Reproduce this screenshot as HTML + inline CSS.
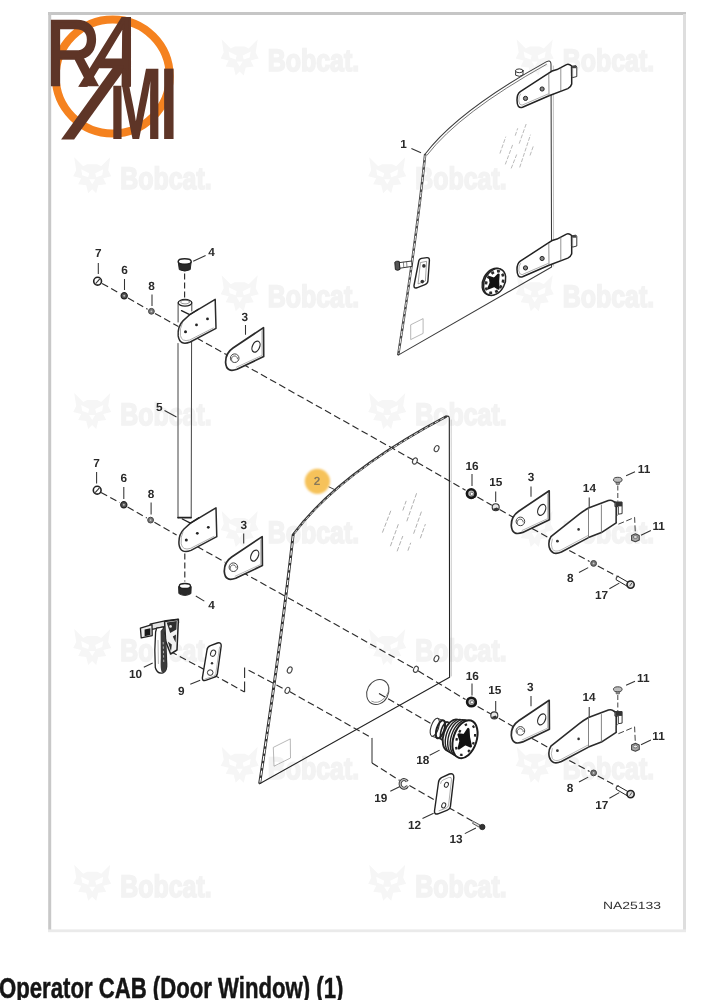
<!DOCTYPE html>
<html lang="en">
<head>
<meta charset="utf-8">
<title>Operator CAB (Door Window) (1)</title>
<style>
html,body{margin:0;padding:0;background:#fff;}
body{width:707px;height:1000px;overflow:hidden;position:relative;font-family:"Liberation Sans",sans-serif;}
svg{position:absolute;left:0;top:0;display:block;will-change:transform;}
svg text{font-family:"Liberation Sans",sans-serif;text-rendering:geometricPrecision;}
.lb{font-weight:bold;font-size:11.8px;fill:#2a2a2a;text-anchor:middle;}
.wm text{font-weight:bold;font-size:29px;fill:#f3f3f3;stroke:#f3f3f3;stroke-width:1.6px;}
.wm path{fill:#f6f6f6;}
.k{fill:none;stroke:#222;stroke-width:1;stroke-linecap:round;stroke-linejoin:round;}
.kf{fill:#fff;stroke:#222;stroke-width:1;stroke-linecap:round;stroke-linejoin:round;}
.t{fill:none;stroke:#444;stroke-width:0.7;stroke-linecap:round;stroke-linejoin:round;}
.d{fill:none;stroke:#2c2c2c;stroke-width:1.15;stroke-dasharray:7 3.5;}
.ld{fill:none;stroke:#333;stroke-width:1.05;}
h1{position:absolute;left:-1px;top:972.8px;margin:0;font-size:29.5px;line-height:30px;font-weight:bold;color:#151515;white-space:nowrap;transform-origin:0 0;transform:scaleX(0.751);letter-spacing:0;-webkit-text-stroke:0.5px #151515;}
</style>
</head>
<body>
<svg width="707" height="1000" viewBox="0 0 707 1000">
<!-- 10_frame.svg -->
<rect x="48" y="12" width="638" height="3" fill="#c6c6c6"/>
<rect x="48.2" y="12" width="3" height="920" fill="#c8c8c8"/>
<rect x="683" y="14" width="3" height="917" fill="#dedede"/>
<rect x="48" y="929.4" width="638" height="2.8" fill="#eaeaea"/>
<defs><g id="bc" class="wm">
<path fill-rule="evenodd" d="M1,1 L10,10 L14,8 L24,8 L28,10 L37,1 L35,14 L38,20 L30,22 L33,28 L25,29 L23,37 L19,33 L15,37 L13,29 L5,28 L8,22 L0,20 L3,14 Z M8,13 L16,17 L15,21 L9,19 Z M30,13 L22,17 L23,21 L29,19 Z M16,23 L22,23 L19,28 Z"/>
<text transform="translate(47,33) scale(0.86,1.07)">Bobcat.</text>
</g></defs>
<use href="#bc" x="220.7" y="38.4"/>
<use href="#bc" x="515.7" y="38.4"/>
<use href="#bc" x="73.2" y="156.3"/>
<use href="#bc" x="368.2" y="156.3"/>
<use href="#bc" x="220.7" y="274.2"/>
<use href="#bc" x="515.7" y="274.2"/>
<use href="#bc" x="73.2" y="392.1"/>
<use href="#bc" x="368.2" y="392.1"/>
<use href="#bc" x="220.7" y="510.0"/>
<use href="#bc" x="515.7" y="510.0"/>
<use href="#bc" x="73.2" y="627.9"/>
<use href="#bc" x="368.2" y="627.9"/>
<use href="#bc" x="220.7" y="745.8"/>
<use href="#bc" x="515.7" y="745.8"/>
<use href="#bc" x="73.2" y="863.7"/>
<use href="#bc" x="368.2" y="863.7"/>
<!-- 20_logo.svg -->
<g id="logo">
<defs><clipPath id="aclip"><rect x="40" y="0" width="140" height="86.7"/></clipPath><clipPath id="mclip"><polygon points="122.6,60 180,60 180,145 100,145 100,85.8 122.6,85.8"/></clipPath></defs>
<circle cx="112.7" cy="76.5" r="57" fill="none" stroke="#f5821f" stroke-width="8"/>
<polygon points="61.1,139.4 74.1,139.4 128.5,64 115.5,64" fill="#5e3527"/>
<g fill="#5e3527" stroke="#5e3527" stroke-linejoin="miter">
<text transform="matrix(0.818,0,0,1,45.8,85.3)" font-size="92.9" stroke-width="2.6">R</text>
<g clip-path="url(#aclip)"><text transform="matrix(0.769,0,-0.309,1,79,87.3)" font-size="99.7" stroke-width="2.6">A</text></g>
<g clip-path="url(#mclip)"><text transform="matrix(0.63,0,0,1,109.1,139.4)" font-size="102.3" font-weight="bold" stroke-width="0">M</text></g>
<text transform="matrix(0.64,0,0,1,159.7,139.4)" font-size="102.3" font-weight="bold" stroke-width="0">I</text>
</g>
</g>

<!-- 25_dashes.svg -->
<g id="dashes" class="d">
<!-- upper axis: slope .5714 from (98.4,281.4) -->
<path d="M102,283.4L120.4,293.8 M128,298L147.6,309.2 M155,313.4L178.4,326.6 M187.6,333L226.4,354.6 M242.6,364L414,460.4 M417,462.2L465.6,490.2 M477.4,497L491.8,505.2 M499.6,509.6L514.6,518 M532,528.4L549.6,538.2 M560,545.6L589.6,561.4 M597.8,566L617.6,576.6"/>
<!-- lower axis -->
<path d="M101,492.4L119.8,502.6 M127.6,507L146.8,518 M154.4,522.2L176.6,535 M188,541.4L225,562.2 M242,572L415,669 M418,670.8L465.6,699.6 M477.6,706.6L491,714 M498.8,718.2L514,727 M532,738.4L549.6,748.2 M560,755.6L589.6,771.4 M597.8,776L617.6,786.6"/>
<!-- 10 -> 9 -> glass -->
<path d="M170.5,651.5L207.4,671.2 M212.8,674.4L244.6,692"/>
<path d="M244.6,692L244.6,667.4" style="stroke-dasharray:10.5 3.6;stroke-width:1.1"/>
<path d="M248.6,670.2L286,690"/>
<!-- glass hole -> 19 -> 12 -> 13 -->
<path d="M289.5,691.6L372,738"/>
<path d="M372,738L372,763" style="stroke-dasharray:none;stroke-width:1"/>
<path d="M372,763L399.6,780.4 M409.4,785.6L434,799.6 M448.3,807.4L473,821.4"/>
<!-- knob axis -->
<path d="M379,693.4L430.5,723.4"/>
</g>

<!-- 30_window1.svg -->
<g id="window1">
<!-- glass outline -->
<path class="k" d="M425.2,154 Q458.2,110.6 546.6,61.6 Q550.8,59.6 551,64 L551.6,267 L398.2,355.1" style="stroke-width:1.05;stroke:#3a3a3a"/>
<path class="k" d="M427,155.2 Q459.6,112.8 546.4,64.4" style="stroke-width:.8;stroke:#555"/>
<path class="t" d="M553.3,66 L553.6,266" style="stroke:#999;stroke-width:.6"/>
<!-- left edge band -->
<path d="M425.2,154 Q416.4,240 398.2,355.1" fill="none" stroke="#4a4a4a" stroke-width="2.5"/>
<path d="M425.1,155.4 Q416.4,240 398.4,354" fill="none" stroke="#fff" stroke-width=".9" stroke-dasharray="5 2.4"/>
<!-- reflection marks -->
<g fill="none" stroke="#a8a8a8" stroke-width=".8" stroke-dasharray="4 1.6">
<path d="M499.9,153.5L505.8,136.7M505.3,164.4L512.7,144.6M515.2,135.7L517.7,128.3M511.2,168.4L516.7,154.5M519.2,143.6L526.6,122.8M519.7,167.4L530.5,134.7M530,155.5L533.5,145.6"/>
</g>
<!-- sticker -->
<path d="M410.7,324.8L423.1,318.6L423.1,333.4L410.7,339.6Z" fill="none" stroke="#999" stroke-width=".7"/>
<!-- small bolt on top edge -->
<path class="kf" d="M515.6,71 L515.6,75.2 Q519.3,77.6 523,75 L523,70.8 Z" style="stroke-width:.9"/>
<ellipse class="kf" cx="519.3" cy="70.8" rx="3.8" ry="1.9" style="stroke-width:.9"/>
<!-- hinge symbol -->
<defs><g id="hinge1">
<path class="kf" d="M520.3,91.7 L547.6,73.8 Q552,70.6 557,69.6 L566.5,64.6 Q569,63.6 571.7,66 L571.7,84 Q571,87 567.8,88.6 L549,95.8 L522.5,107.2 Q517,108.8 517,100 Q517,94.2 520.3,91.7 Z" style="stroke-width:1.5"/>
<path class="t" d="M548.8,74 L549,95.5 M560.8,68 L560.8,91" style="stroke:#666"/>
<path class="t" d="M520.5,94 Q518.6,96 518.8,101 Q519,105 522,105.2 L548,94" style="stroke:#777;stroke-width:.6"/>
<circle cx="525.5" cy="98.4" r="2.1" fill="#888" stroke="#222" stroke-width="1"/>
<circle cx="542.1" cy="89" r="2.1" fill="#888" stroke="#222" stroke-width="1"/>
<path class="kf" d="M571.7,66.5 L575.8,65.6 L576.8,67 L576.8,76.5 L572.6,77.6 L571.7,76.5 Z" style="stroke-width:.9"/>
<path class="t" d="M572.6,68.5 L572.6,77.4" style="stroke:#555"/>
<rect x="572" y="65.8" width="4.4" height="2.4" fill="#444"/>
</g></defs>
<use href="#hinge1"/>
<use href="#hinge1" y="169.5"/>
<!-- latch plate -->
<path class="kf" d="M418.6,262 Q418.7,259 421.5,258.4 L427,257.6 Q429.6,257.5 429.4,260.5 L427.9,281 Q427.7,283.6 425,284.6 L416.8,287.8 Q413.8,288.6 414,285.5 Z" style="stroke-width:1.4"/>
<path class="t" d="M420.8,262.5 L426.6,261.3 L425.4,281 L418.4,283.8 Z" style="stroke:#666;stroke-width:.6"/>
<circle cx="423.9" cy="265.9" r="1.8" fill="#333"/>
<circle cx="422.3" cy="281.6" r="1.8" fill="#333"/>
<!-- latch bolt left -->
<path class="kf" d="M399.5,262.6 L411.8,261 L412,266.4 L400,268.2 Z" style="stroke-width:.9"/>
<path d="M394.8,262.2 Q396.5,260.6 399.2,261.4 L400,269.4 Q397.4,271 395.4,269.6 Z" fill="#555" stroke="#222" stroke-width="1"/>
<path class="t" d="M403.4,262.2L403.8,267.6M406.6,261.8L407,267.2" style="stroke:#555"/>
<!-- knob -->
<g transform="translate(494.6,282) rotate(28) scale(.92)">
<ellipse cx="-1.2" cy=".4" rx="11.4" ry="15.6" fill="#555" stroke="#222" stroke-width="1.4"/>
<ellipse rx="11" ry="15.4" fill="#fff" stroke="#222" stroke-width="1.6"/>
<ellipse rx="8.4" ry="12.6" fill="none" stroke="#2a2a2a" stroke-width="2.8" stroke-dasharray="3.2 3.4"/>
<path d="M0,-9 L2.8,-2.6 L7,4.4 L1.6,3.8 L-2.6,9 L-3.2,2.8 L-6.8,-2 L-1.8,-3 Z" fill="#111" stroke="#111" stroke-width="2.6" stroke-linejoin="round"/>
</g>
<!-- label 1 -->
<path class="ld" d="M411.4,148.4 L421,152.8"/>
</g>

<!-- 35_window2.svg -->
<g id="window2">
<path class="k" d="M293.2,534.4 Q339.2,472.8 446,416.6 Q449.2,415 449.3,418.5 L449.6,677.2 L259.6,783.8" style="stroke-width:1.1"/>
<path class="k" d="M293.2,534.4 Q339.2,472.8 446,416.6" style="stroke-width:2.4;stroke:#3a3a3a"/>
<path d="M294.6,533.2 Q340,473.4 445.6,417" fill="none" stroke="#fff" stroke-width=".8" stroke-dasharray="4 2"/>
<path class="t" d="M451.2,420 L451.4,676" style="stroke:#aaa;stroke-width:.6"/>
<!-- left edge band -->
<path d="M293.2,534.4 Q281.4,640 259.6,783.8" fill="none" stroke="#333" stroke-width="2.9"/>
<path d="M293.1,536 Q281.4,640 259.9,782.5" fill="none" stroke="#fff" stroke-width="1.1" stroke-dasharray="5 2.4"/>
<!-- reflection marks -->
<g fill="none" stroke="#a8a8a8" stroke-width=".9" stroke-dasharray="4.5 1.8">
<path d="M382.4,532.6L390.9,510.5M390.4,546.2L398.8,523M402.8,510.5L406.2,500.9M397.1,551.3L402.8,536M406.8,521.3L416.9,492.4M407.9,550.7L410.7,542.8M413.6,533.7L422,510M420.3,538.3L425.4,524.1"/>
</g>
<!-- sticker -->
<path d="M273.3,747.4 L290.3,738.9 L290.5,758 L274,766.2 Z" fill="none" stroke="#999" stroke-width=".7"/>
<!-- holes -->
<g fill="#fff" stroke="#444" stroke-width="1.1">
<ellipse cx="436.6" cy="448.6" rx="2.2" ry="3.2" transform="rotate(25,436.6,448.6)"/>
<ellipse cx="414.9" cy="461" rx="2.2" ry="3.2" transform="rotate(25,414.9,461)"/>
<ellipse cx="436.4" cy="658.6" rx="2.2" ry="3.2" transform="rotate(25,436.4,658.6)"/>
<ellipse cx="415.9" cy="669.3" rx="2.2" ry="3.2" transform="rotate(25,415.9,669.3)"/>
<ellipse cx="289.7" cy="670" rx="2.2" ry="3.2" transform="rotate(25,289.7,670)"/>
<ellipse cx="287.4" cy="690.4" rx="2.2" ry="3.2" transform="rotate(25,287.4,690.4)"/>
</g>
<!-- knob hole -->
<ellipse cx="377.8" cy="692" rx="10.6" ry="13" transform="rotate(28,377.8,692)" fill="none" stroke="#444" stroke-width="1"/>
<path d="M370,700.5 A10.6,13 28 0 0 387,684" fill="none" stroke="#666" stroke-width=".7" transform="translate(1.4,0.6)"/>
<path class="ld" d="M328.4,486.6L334.7,489.6"/>
</g>

<!-- 40_left.svg -->
<g id="leftasm">
<defs>
<g id="plate3">
<path class="kf" d="M0,0 L0.2,29 L-26.5,41.6 Q-37,45.6 -37.9,35 Q-38.2,25.6 -30.5,20.4 Z" style="stroke-width:1.7;stroke:#2b2b2b"/>
<path class="t" d="M-1.6,3.2 L-1.5,27.8 L-27,39.6" style="stroke:#888;stroke-width:.6"/>
<ellipse cx="-7.5" cy="19" rx="3.6" ry="5.8" transform="rotate(24,-7.5,19)" fill="#fff" stroke="#2b2b2b" stroke-width="1.2"/>
<circle cx="-28.8" cy="30.6" r="4.3" fill="#fff" stroke="#444" stroke-width="1"/>
<path d="M-31.5,33 A3,3 0 1 1 -26,31.6" fill="none" stroke="#555" stroke-width=".9"/>
</g>
<g id="bracket">
<path class="kf" d="M0,0 L0.8,28.9 L-25,42.6 Q-35.5,46.6 -37,36.5 Q-37.8,27 -32,21.2 L-25.5,15.3 Z" style="stroke-width:1.5;stroke:#2b2b2b"/>
<path class="k" d="M-33.7,11.2 L-25.5,15.3 L-17,9.8" style="stroke-width:1.3"/>
<path class="t" d="M-33,24 Q-35.6,29 -34.8,36 Q-33.5,43 -25.5,40.6 L-2,28.6" style="stroke:#777;stroke-width:.6"/>
<circle cx="-7.7" cy="19.5" r="1.4" fill="#222"/>
<circle cx="-18.7" cy="25.5" r="1.4" fill="#222"/>
<circle cx="-29.7" cy="32.3" r="1.5" fill="#222"/>
</g>
<g id="nut7"><circle r="3.9" fill="#fff" stroke="#222" stroke-width="1.6"/><path d="M-2,2.4L2.2,-2.4" stroke="#333" stroke-width="1.1"/></g>
<g id="w6"><circle r="3.1" fill="#555" stroke="#222" stroke-width="1.2"/><circle r="1" fill="#bbb"/></g>
<g id="w8"><circle r="2.9" fill="#777" stroke="#444" stroke-width="1"/><circle r=".9" fill="#ccc"/></g>
</defs>
<!-- tube 5 -->
<path class="k" d="M178.1,303 L178.1,322 M191.8,303 L191.8,311" style="stroke-width:1;stroke:#444"/>
<path class="k" d="M178,343.5 L178,518 M191.6,340.8 L191.2,518" style="stroke-width:1;stroke:#444"/>
<path class="k" d="M178,517.6 L191,517.6" style="stroke-width:1.6"/>
<ellipse class="kf" cx="185" cy="302.8" rx="6.8" ry="3.3" style="stroke-width:1.3"/>
<ellipse class="t" cx="185" cy="302" rx="4.4" ry="1.9" style="stroke:#666"/>
<use href="#bracket" x="215.2" y="299.4"/>
<use href="#bracket" x="216" y="507.8"/>
<!-- plugs 4 -->
<path d="M178.2,261.6 L179.3,269.6 Q184.8,272.6 190.2,269.6 L191.2,261.6 Z" fill="#2a2a2a" stroke="#222" stroke-width="1"/>
<ellipse cx="184.7" cy="261.4" rx="6.5" ry="2.7" fill="#fff" stroke="#222" stroke-width="1.4"/>
<path d="M178.6,586.5 L178.9,593.6 Q184.8,597.2 190.9,593.6 L191.2,586.5 Z" fill="#2a2a2a" stroke="#222" stroke-width="1"/>
<ellipse cx="184.9" cy="586" rx="5.6" ry="2.5" fill="#fff" stroke="#222" stroke-width="1.3"/>
<path class="d" d="M184.6,273.5 L184.6,299" style="stroke-dasharray:6 3"/>
<path class="d" d="M184.8,553.5 L184.8,581.5" style="stroke-dasharray:6 3"/>
<!-- plates 3 -->
<use href="#plate3" x="263.5" y="327.6"/>
<use href="#plate3" x="262.2" y="536.6"/>
<!-- fasteners -->
<use href="#nut7" x="97.6" y="281.2"/><use href="#w6" x="124.2" y="295.8"/><use href="#w8" x="151.4" y="311.3"/>
<use href="#nut7" x="97.2" y="490.2"/><use href="#w6" x="123.8" y="504.8"/><use href="#w8" x="150.6" y="520.1"/>
<!-- leaders -->
<path class="ld" d="M98.3,263L98.3,274 M124.5,279L124.5,290 M152,294.5L152,306 M193.2,261.2L205.6,255.4 M245.5,325L245.5,334.8 M164.5,410.5L176.5,417"/>
<path class="ld" d="M96.6,472L96.6,483.5 M123.8,487L123.8,499 M151.1,502.5L151.1,514.5 M243.7,533.4L243.7,543.4 M195.8,596L204.3,601.1"/>
</g>

<!-- 50_right.svg -->
<g id="rightasm">
<defs>
<g id="bush16">
<circle cx="1.8" cy="1" r="3.4" fill="#fff" stroke="#333" stroke-width="1"/>
<circle r="4.3" fill="#bbb" stroke="#161616" stroke-width="2.6"/>
<circle cx=".6" cy=".3" r="1.6" fill="#fff" stroke="#555" stroke-width=".7"/>
</g>
<g id="ball15">
<circle r="3.5" fill="#e8e8e8" stroke="#333" stroke-width="1.1"/>
<path d="M-2.6,1.6 A3.3,3.3 0 0 0 3,1.8 L1.2,.2 Z" fill="#333"/>
</g>
<g id="hinge14">
<path class="kf" d="M2,-7.9 L30.7,-30.7 Q35,-34 39.6,-36.6 L59.5,-44 Q62,-44.9 64.3,-43.4 L67.3,-41.6 L67.3,-21.8 L52.5,-12 L39.6,-7 L12.5,7.4 Q3,11.6 .4,3 Q-1,-3.5 2,-7.9 Z" style="stroke-width:1.6;stroke:#2b2b2b"/>
<path class="t" d="M39.6,-36.6 L39.6,-7 M52.5,-39.6 L52.5,-12" style="stroke:#666;stroke-width:.8"/>
<path class="t" d="M3.4,-5.5 Q1.4,0 3.4,4.4 Q6,8 12,5.4 L39,-9" style="stroke:#888;stroke-width:.6"/>
<circle cx="29.7" cy="-15.2" r="1.3" fill="#333"/>
<circle cx="8.5" cy="-3.4" r="1.4" fill="#333"/>
<path class="kf" d="M66.4,-42.5 L73.2,-42.5 L73.2,-31 L69.4,-30.4 L69.4,-38 L66.4,-38 Z" style="stroke-width:.9"/>
<rect x="66.4" y="-42.8" width="6.8" height="4.6" fill="#333"/>
<path class="t" d="M69.4,-30.4 L67.3,-28 L67.3,-23" style="stroke:#555"/>
</g>
<g id="bolt11">
<path d="M-2,1 L-1.6,4.6 L1.6,4.6 L2,1 Z" fill="#999" stroke="#555" stroke-width=".7"/>
<ellipse rx="4.3" ry="2.5" fill="#bdbdbd" stroke="#444" stroke-width="1"/>
</g>
<g id="nut11">
<path d="M-3.8,-2.2 L0,-4 L3.8,-2.4 L3.9,2.2 L0,4 L-3.8,2.4 Z" fill="#aaa" stroke="#444" stroke-width="1.1" stroke-linejoin="round"/>
<ellipse cy="-.8" rx="2.1" ry="1.4" fill="#e8e8e8" stroke="#555" stroke-width=".7"/>
</g>
<g id="bolt17">
<path class="kf" d="M-12.6,-8.2 L-1.4,-1.8 L-3.4,1.6 L-14.4,-4.8 Q-15.4,-7.4 -12.6,-8.2 Z" style="stroke-width:1"/>
<circle r="3.6" fill="#ddd" stroke="#222" stroke-width="1.6"/>
<path d="M-1,1.6 L1.4,-1.8" stroke="#444" stroke-width=".9"/>
</g>
<g id="rset">
<use href="#plate3" x="549.2" y="490.8"/>
<use href="#hinge14" x="548.9" y="544.6"/>
<use href="#bolt11" x="617.8" y="479.8"/>
<use href="#nut11" x="635.4" y="537.8"/>
<use href="#w8" x="593.6" y="563.4"/>
<use href="#bolt17" x="630.6" y="584.6"/>
<path class="ld" d="M472,474L472,486 M495.7,491.6L495.7,502 M531,486.5L531,496.8 M589.2,497.6L589.2,507.6 M626.1,475.8L635,471.8 M641,535.2L650.9,530.6 M579,572.5L588.2,567.6 M609.4,588.8L619.3,583.1"/>
<path class="d" d="M617.8,485.5L617.8,501.5" style="stroke-dasharray:5 2.5;stroke-width:.9"/>
<path class="d" d="M618.4,524.2L634.6,517.4L635.3,532.6" style="stroke-dasharray:6 2.5;stroke-width:.9"/>
</g>
</defs>
<use href="#rset"/>
<use href="#rset" y="209.5"/>
<use href="#bush16" x="471.2" y="493.6"/>
<use href="#ball15" x="495.7" y="507.2"/>
<use href="#bush16" x="471.4" y="702"/>
<use href="#ball15" x="494.3" y="715.4"/>
</g>

<!-- 60_lower.svg -->
<g id="lowerasm">
<!-- part 10 latch -->
<g stroke-linejoin="round">
<path d="M150,624.2 L166,620.6 L178.3,619.2 L178.6,622.6 L166,626.4 L152,629.4 Z" fill="#e4e4e4" stroke="#222" stroke-width="1.2"/>
<path d="M164.6,621.6 L178.4,619.4 L177,650 L170.6,654 L165.6,641 Z" fill="#f2f2f2" stroke="#222" stroke-width="1.5"/>
<path d="M166.6,622.6 L176.8,621 L176.4,629.6 L170.2,633 Z M172.8,636.4 L176,634.6 L175.6,642.6 Z M167.8,641.6 L171.8,644.6 L171,651.4 Z" fill="#2e2e2e"/>
<circle cx="170.6" cy="626.4" r="1.3" fill="#ddd"/>
<path d="M140.4,628.2 L152,624.6 L152.2,635.6 L141.2,637.8 Z" fill="#eee" stroke="#222" stroke-width="1.3"/>
<path d="M144.6,629.6 L150.4,628.2 L150.4,635 L144.6,636.2 Z" fill="#1a1a1a"/>
<path d="M155.6,632 Q154.2,650 155.3,667.5 Q157,674.2 163,672.8 Q167.2,671 166.7,664 L165.6,640 L163.4,626.8 L156.6,628.2 Z" fill="#fff" stroke="#222" stroke-width="1.3"/>
<path d="M160.6,631 L163.4,627.4 L165.6,640 L166.7,664 Q167.2,671 163,672.8 Q160,673 160.8,658 Z" fill="#3c3c3c"/>
<path d="M163.2,642 L163.8,664" stroke="#bbb" stroke-width=".9" fill="none" stroke-dasharray="2.4 2"/>
<path d="M158,640 L158.4,664" stroke="#999" stroke-width=".7" fill="none"/>
</g>
<!-- plate 9 -->
<path class="kf" d="M207,650 Q207.2,646.8 210.5,645.6 L217.5,643 Q221.4,642 221.2,646 L217.4,673.6 Q217,676.4 214,677.4 L205.6,680.4 Q202,681.2 202.4,677.6 Z" style="stroke-width:1.4"/>
<path class="t" d="M219.6,647 L215.8,673.4 Q215.4,675.6 213,676.4 L205,679" style="stroke:#888;stroke-width:.6"/>
<ellipse cx="213.1" cy="653.2" rx="2.4" ry="3.2" transform="rotate(25,213.1,653.2)" fill="#fff" stroke="#333" stroke-width="1"/>
<circle cx="212" cy="663.2" r="1.2" fill="#333"/>
<circle cx="210.2" cy="672.6" r="2.8" fill="#fff" stroke="#333" stroke-width="1"/>
<!-- knob 18 -->
<g transform="translate(465,739.2) rotate(18)">
<path d="M-32.4,-11.4 L-16,-10.6 L-16,7.6 L-32.4,7.4 Z" fill="#fff" stroke="#333" stroke-width="1"/>
<ellipse cx="-32.4" cy="-2" rx="3.8" ry="9.4" fill="#fff" stroke="#333" stroke-width="1.1"/>
<ellipse cx="-26.4" cy="-1.8" rx="3.8" ry="9.4" fill="none" stroke="#222" stroke-width="2"/>
<ellipse cx="-21.6" cy="-1.6" rx="3.8" ry="9.4" fill="none" stroke="#222" stroke-width="1.6"/>
<path d="M-13,-15.6 L0,-19 L0,19 L-13,15.6 Z" fill="#fff"/>
<ellipse cx="-13" cy="0" rx="9" ry="16.4" fill="#fff" stroke="#222" stroke-width="1.8"/>
<ellipse cx="-9.6" cy="0" rx="9.6" ry="17.4" fill="#fff" stroke="#222" stroke-width="1.4"/>
<ellipse cx="-6.4" cy="0" rx="10.2" ry="18.2" fill="#fff" stroke="#222" stroke-width="1.4"/>
<ellipse cx="-3.2" cy="0" rx="10.8" ry="18.8" fill="#fff" stroke="#222" stroke-width="1.4"/>
<ellipse cx="0" cy="0" rx="11.6" ry="19.6" fill="#fff" stroke="#1c1c1c" stroke-width="2"/>
<ellipse cx=".6" cy="0" rx="8.6" ry="16" fill="none" stroke="#222" stroke-width="2.2" stroke-dasharray="2.6 6.2"/>
<path d="M0,-10.5 L3,-3 L7.6,5 L1.6,4.4 L-3,10.4 L-3.6,3 L-7.4,-2.4 L-2,-3.4 Z" fill="#111" stroke="#111" stroke-width="2.6" stroke-linejoin="round"/>
</g>
<!-- washer 19 -->
<path d="M407.3,781.6 A3.9,4.3 0 1 0 407.5,785.8" fill="none" stroke="#2e2e2e" stroke-width="3"/>
<path d="M407.3,781.6 A3.9,4.3 0 1 0 407.5,785.8" fill="none" stroke="#bdbdbd" stroke-width="1.3"/>
<!-- plate 12 -->
<path class="kf" d="M438.4,783 Q438.6,779.2 441.5,777.6 L449.4,774 Q454,772.6 453.8,777.5 L450.4,806.6 Q450,809.2 447.4,810.2 L438,813.8 Q434.2,814.8 434.5,811 Z" style="stroke-width:1.4"/>
<path class="t" d="M440.6,783.6 Q440.8,781 443,780 L449,777.4 Q451.8,776.6 451.5,779.6 L448.6,805 Q448.2,807.4 446,808.2 L439,810.8" style="stroke:#777;stroke-width:.6"/>
<ellipse cx="446.4" cy="784.8" rx="1.9" ry="2.6" transform="rotate(25,446.4,784.8)" fill="#fff" stroke="#333" stroke-width="1"/>
<ellipse cx="443.7" cy="805.4" rx="1.9" ry="2.6" transform="rotate(25,443.7,805.4)" fill="#fff" stroke="#333" stroke-width="1"/>
<!-- screw 13 -->
<path d="M473.5,821.4 L480,825 L478.8,827 L472.6,823.4 Z" fill="#ddd" stroke="#333" stroke-width=".8"/>
<circle cx="482.3" cy="827" r="2.7" fill="#333" stroke="#222" stroke-width=".8"/>
<!-- leaders -->
<path class="ld" d="M143.8,667.3L152.7,663 M190.3,684.2L200.2,680.2 M429.7,755.3L439.6,750.1 M390.3,791.3L399.5,786.7 M422.5,818.5L433.6,813.3 M464.8,833.6L475.9,828"/>
</g>

<!-- 90_labels.svg -->
<g id="labels">
<circle cx="317.4" cy="481.3" r="12.6" fill="#f6c25a" filter="url(#soft)"/>
<defs><filter id="soft" x="-20%" y="-20%" width="140%" height="140%"><feGaussianBlur stdDeviation="0.9"/></filter></defs>
<text class="lb" x="317" y="485.4" style="fill:#8a7a5a">2</text>
<text class="lb" x="403.6" y="148.0">1</text>
<text class="lb" x="98.3" y="257.4">7</text>
<text class="lb" x="124.5" y="273.8">6</text>
<text class="lb" x="151.6" y="289.5">8</text>
<text class="lb" x="211.6" y="256.1">4</text>
<text class="lb" x="244.7" y="321.2">3</text>
<text class="lb" x="159.2" y="411.4">5</text>
<text class="lb" x="96.6" y="466.6">7</text>
<text class="lb" x="123.8" y="481.9">6</text>
<text class="lb" x="151.1" y="497.5">8</text>
<text class="lb" x="243.8" y="529.4">3</text>
<text class="lb" x="211.6" y="609.1">4</text>
<text class="lb" x="135.6" y="677.5">10</text>
<text class="lb" x="181.2" y="695.4">9</text>
<text class="lb" x="472.0" y="469.6">16</text>
<text class="lb" x="495.8" y="485.9">15</text>
<text class="lb" x="531.0" y="481.4">3</text>
<text class="lb" x="589.4" y="492.0">14</text>
<text class="lb" x="644.1" y="472.5">11</text>
<text class="lb" x="658.7" y="530.1">11</text>
<text class="lb" x="570.3" y="582.3">8</text>
<text class="lb" x="601.6" y="598.6">17</text>
<text class="lb" x="472.3" y="680.1">16</text>
<text class="lb" x="494.7" y="693.9">15</text>
<text class="lb" x="530.4" y="691.3">3</text>
<text class="lb" x="589.0" y="701.0">14</text>
<text class="lb" x="643.3" y="682.2">11</text>
<text class="lb" x="658.6" y="740.1">11</text>
<text class="lb" x="570.1" y="792.1">8</text>
<text class="lb" x="601.7" y="809.4">17</text>
<text class="lb" x="422.7" y="764.0">18</text>
<text class="lb" x="380.8" y="802.1">19</text>
<text class="lb" x="414.5" y="828.6">12</text>
<text class="lb" x="456.0" y="842.6">13</text>
<text x="603" y="909" font-size="10.5" fill="#333" textLength="58" lengthAdjust="spacingAndGlyphs">NA25133</text>
</g>
</svg>
<h1>Operator CAB (Door Window) (1)</h1>
</body>
</html>
